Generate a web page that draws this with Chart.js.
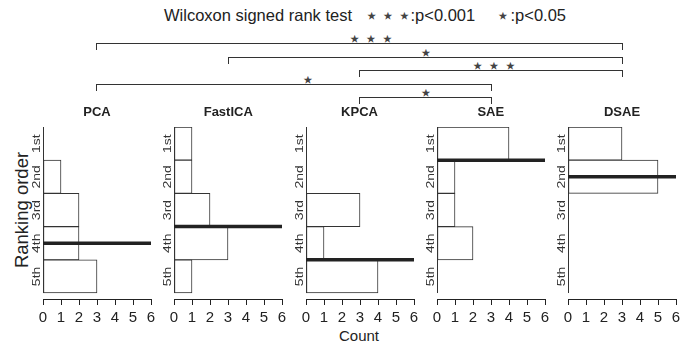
<!DOCTYPE html>
<html>
<head>
<meta charset="utf-8">
<script src="https://cdn.jsdelivr.net/npm/chart.js@4.4.1/dist/chart.umd.min.js"></script>
<style>
  body { margin: 0; width: 694px; height: 345px; position: relative; overflow: hidden; background: #fff;
         font-family: "Liberation Sans", Arial, sans-serif; color: #222; }
  .abs { position: absolute; white-space: nowrap; }
  canvas { position: absolute; }
  .panelTitle { font-weight: bold; font-size: 13px; transform: translate(-50%, -50%); }
  .bracket { position: absolute; height: 7px; border: 1.5px solid #333; border-bottom: none; box-sizing: border-box; }
  .stars { font-family: "DejaVu Sans", sans-serif; font-size: 22px; line-height: 1; transform: translate(-50%, -50%); letter-spacing: 2.5px; text-indent: 2.5px; color: #444; }
  .note { font-size: 16.5px; line-height: 1; transform: translateY(-50%); }
</style>
</head>
<body>
<div class="abs note" style="left:164px;top:15px">Wilcoxon signed rank test</div>
<div class="abs stars" style="left:388px;top:16px">⋆⋆⋆</div>
<div class="abs note" style="left:410.5px;top:15px">:p&lt;0.001</div>
<div class="abs stars" style="left:503px;top:16px">⋆</div>
<div class="abs note" style="left:510.5px;top:15px">:p&lt;0.05</div>
<div class="abs" style="left:22px;top:210px;font-size:18.5px;transform:translate(-50%,-50%) rotate(-90deg);transform-origin:50% 50%;">Ranking order</div>
<div class="abs" style="left:359px;top:335px;font-size:15px;transform:translate(-50%,-50%)">Count</div>
<div id="overlay"></div>
<script>
const methods = ['PCA', 'FastICA', 'KPCA', 'SAE', 'DSAE'];
const rankLabels = ['1st', '2nd', '3rd', '4th', '5th'];
const rankValues = [1, 2, 3, 4, 5];
const countTicks = [0, 1, 2, 3, 4, 5, 6];

// counts per rank (1st..5th)
const pcaCounts = [0, 1, 2, 2, 3];
const fastIcaCounts = [1, 1, 2, 3, 1];
const kpcaCounts = [0, 0, 3, 1, 4];
const saeCounts = [4, 1, 1, 2, 0];
const dsaeCounts = [3, 5, 0, 0, 0];
const allCounts = [pcaCounts, fastIcaCounts, kpcaCounts, saeCounts, dsaeCounts];

// median ranking (thick line)
const medianRank = [4, 3.5, 4.5, 1.5, 2];

// pairwise tests: [method a, method b, marker]
const comparisons = [[0, 4, '⋆⋆⋆'], [1, 4, '⋆'], [2, 4, '⋆⋆⋆'], [0, 3, '⋆'], [2, 3, '⋆']];

const panelLeft = [43, 174.25, 305.5, 436.75, 568];
const bracketY = [43, 57, 70, 84, 97];
const starX = [371, 426, 494, 308, 426];

const ink = '#222';

const panelPlugin = {
  id: 'panelExtras',
  afterDatasetsDraw(chart) {
    const ctx = chart.ctx;
    const xs = chart.scales.x, ys = chart.scales.y;
    const x0 = xs.getPixelForValue(0);
    ctx.save();
    // left baseline of the histogram
    ctx.strokeStyle = '#333';
    ctx.lineWidth = 1;
    ctx.beginPath();
    ctx.moveTo(Math.round(x0) + 0.5, ys.getPixelForValue(0.5));
    ctx.lineTo(Math.round(x0) + 0.5, ys.getPixelForValue(5.5));
    ctx.stroke();
    // median line
    const m = chart.options.plugins.panelExtras.median;
    const my = ys.getPixelForValue(m);
    ctx.strokeStyle = ink;
    ctx.lineWidth = 3.5;
    ctx.beginPath();
    ctx.moveTo(x0, my);
    ctx.lineTo(xs.getPixelForValue(6), my);
    ctx.stroke();
    // rotated rank labels
    ctx.fillStyle = '#333';
    ctx.font = '14px "Liberation Sans", Arial, sans-serif';
    ctx.textAlign = 'center';
    ctx.textBaseline = 'middle';
    rankValues.forEach((r, k) => {
      ctx.save();
      ctx.translate(x0 - 5.5, ys.getPixelForValue(r));
      ctx.rotate(-Math.PI / 2);
      ctx.scale(1, 0.75);
      ctx.fillText(rankLabels[k], 0, 0);
      ctx.restore();
    });
    ctx.restore();
  }
};

const overlay = document.getElementById('overlay');
const centers = [];

methods.forEach((name, i) => {
  const cv = document.createElement('canvas');
  cv.width = 168; cv.height = 210;
  cv.style.left = (panelLeft[i] - 30) + 'px';
  cv.style.top = '117px';
  document.body.appendChild(cv);

  const chart = new Chart(cv, {
    type: 'bar',
    data: {
      datasets: [{
        data: allCounts[i].map((c, k) => ({ x: c, y: rankValues[k] })),
        backgroundColor: '#fff',
        borderColor: '#333',
        borderWidth: 1,
        borderSkipped: false,
        barPercentage: 1,
        categoryPercentage: 1
      }]
    },
    options: {
      indexAxis: 'y',
      responsive: false,
      animation: false,
      layout: { padding: { left: 30, right: 30, top: 10, bottom: 0 } },
      plugins: { legend: { display: false }, tooltip: { enabled: false }, panelExtras: { median: medianRank[i] } },
      scales: {
        y: {
          type: 'linear', reverse: true, offset: false, min: 0.5, max: 5.68, display: false,
          afterBuildTicks(s) { s.ticks = rankValues.map(v => ({ value: v })); }
        },
        x: {
          type: 'linear', min: 0, max: 6,
          afterBuildTicks(s) { s.ticks = countTicks.map(v => ({ value: v })); },
          afterFit(s) { s.height = 28; },
          ticks: { color: ink, padding: 4, autoSkip: false, maxRotation: 0, font: { size: 15, family: '"Liberation Sans", Arial, sans-serif' } },
          grid: { drawOnChartArea: false, drawTicks: true, tickLength: 6, color: ink, lineWidth: 1 },
          border: { display: true, color: ink, width: 1 }
        }
      }
    },
    plugins: [panelPlugin]
  });

  const cx = panelLeft[i] - 30 + chart.scales.x.getPixelForValue(3);
  centers.push(cx);
  const t = document.createElement('div');
  t.className = 'abs panelTitle';
  t.style.left = cx + 'px';
  t.style.top = '111px';
  t.textContent = name;
  document.body.appendChild(t);
});

comparisons.forEach(([a, b, mark], j) => {
  const br = document.createElement('div');
  br.className = 'bracket';
  br.style.left = (centers[a] - 0.75) + 'px';
  br.style.width = (centers[b] - centers[a] + 1.5) + 'px';
  br.style.top = bracketY[j] + 'px';
  overlay.appendChild(br);
  const s = document.createElement('div');
  s.className = 'abs stars';
  s.style.left = starX[j] + 'px';
  s.style.top = (bracketY[j] - 4) + 'px';
  s.textContent = mark;
  overlay.appendChild(s);
});
</script>
</body>
</html>
